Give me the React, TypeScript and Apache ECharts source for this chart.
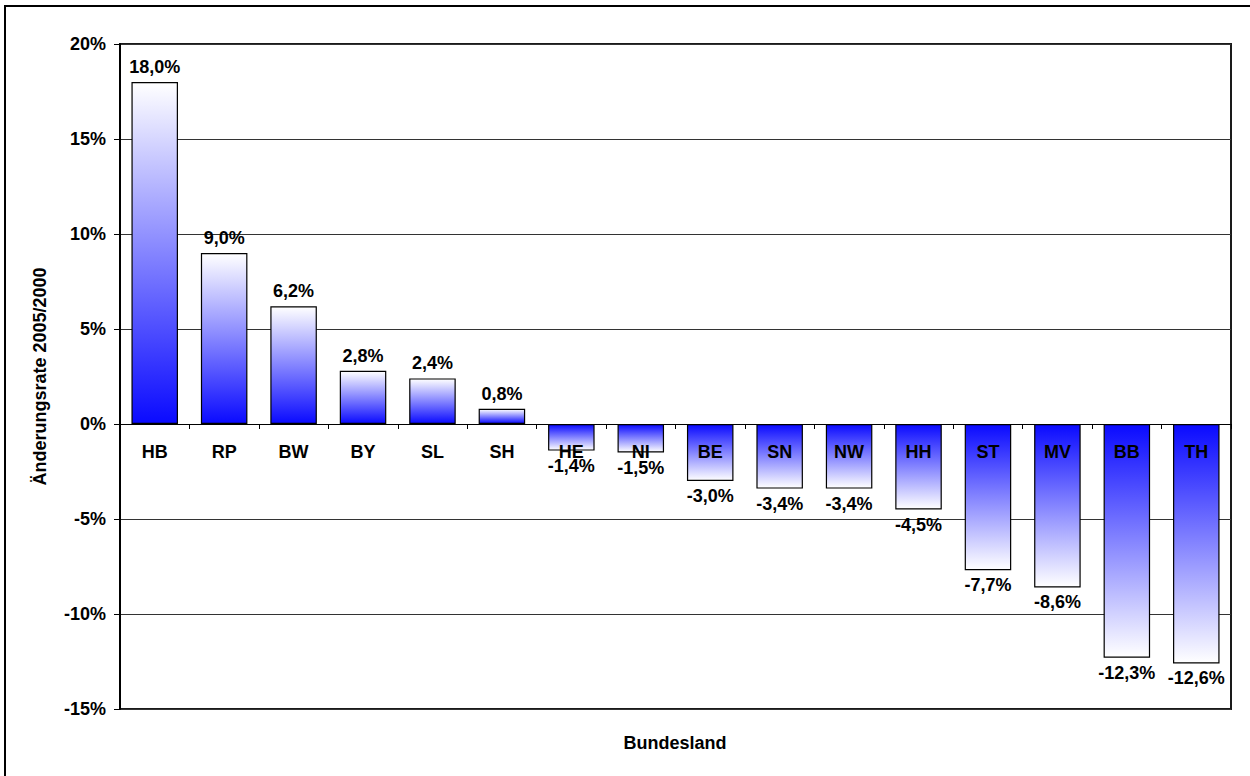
import React, { useEffect, useRef } from "react";
import * as echarts from "echarts";

const categories = ["HB", "RP", "BW", "BY", "SL", "SH", "HE", "NI", "BE", "SN", "NW", "HH", "ST", "MV", "BB", "TH"];
const values = [18.0, 9.0, 6.2, 2.8, 2.4, 0.8, -1.4, -1.5, -3.0, -3.4, -3.4, -4.5, -7.7, -8.6, -12.3, -12.6];
const yTicks = { min: -15, max: 20, interval: 5 };
const yTitle = "Änderungsrate 2005/2000";
const xTitle = "Bundesland";

const FONT = 'Arial, "Liberation Sans", sans-serif';
const BLUE = "#0a0aff";
const GRID = { left: 120, top: 44, right: 19, bottom: 67 };
const PLOT_H = 776 - GRID.top - GRID.bottom;

function fmt(v: number) {
  return v.toFixed(1).replace(".", ",") + "%";
}

export default function App() {
  const ref = useRef<HTMLDivElement>(null);
  useEffect(() => {
    document.body.style.margin = "0";
    const chart = echarts.init(ref.current!, null, { renderer: "svg" });
    // distance from the bottom of the plot to the zero line, via the value scale
    const zeroOffset = (-yTicks.min / (yTicks.max - yTicks.min)) * PLOT_H;
    const data = values.map((v) => ({
      value: v,
      itemStyle: {
        color: new echarts.graphic.LinearGradient(0, 0, 0, 1, v >= 0
          ? [{ offset: 0, color: "#ffffff" }, { offset: 1, color: BLUE }]
          : [{ offset: 0, color: BLUE }, { offset: 1, color: "#ffffff" }]),
      },
      label: {
        position: v >= 0 ? "top" : "bottom",
        distance: v >= 0 ? 6 : 6,
      },
    }));
    chart.setOption({
      animation: false,
      backgroundColor: "#ffffff",
      textStyle: { fontFamily: FONT },
      grid: {
        ...GRID,
        show: true,
        borderColor: "#1a1a1a",
        borderWidth: 2,
        backgroundColor: "transparent",
      },
      xAxis: {
        type: "category",
        data: categories,
        z: 10,
        position: "bottom",
        offset: -zeroOffset,
        axisLine: { onZero: false, lineStyle: { color: "#000", width: 1 } },
        axisTick: { show: true, length: 5, lineStyle: { color: "#000" } },
        axisLabel: {
          margin: 19,
          color: "#000",
          fontFamily: FONT,
          fontWeight: "bold",
          fontSize: 18,
          interval: 0,
        },
        splitLine: { show: false },
      },
      yAxis: {
        type: "value",
        min: yTicks.min,
        max: yTicks.max,
        interval: yTicks.interval,
        name: yTitle,
        nameLocation: "middle",
        nameRotate: 90,
        nameGap: 71,
        nameTextStyle: { color: "#000", fontFamily: FONT, fontWeight: "bold", fontSize: 18 },
        axisLine: { show: true, lineStyle: { color: "#000", width: 2 } },
        axisTick: { show: true, length: 6, lineStyle: { color: "#000" } },
        axisLabel: {
          formatter: (v: number) => v + "%",
          color: "#000",
          fontFamily: FONT,
          fontWeight: "bold",
          fontSize: 18,
          margin: 14,
        },
        splitLine: { show: true, lineStyle: { color: "#333", width: 1 } },
      },
      series: [
        {
          type: "bar",
          data,
          barWidth: "67%",
          itemStyle: { borderColor: "#000", borderWidth: 1.2 },
          label: {
            show: true,
            formatter: (p: any) => fmt(p.value),
            color: "#000",
            fontFamily: FONT,
            fontWeight: "bold",
            fontSize: 18,
          },
        },
      ],
      graphic: [
        {
          type: "rect",
          shape: { x: 5, y: 6, width: 1300, height: 820 },
          style: { fill: "none", stroke: "#000", lineWidth: 2 },
          silent: true,
        },
        {
          type: "text",
          x: 675,
          y: 743,
          style: {
            text: xTitle,
            fill: "#000",
            font: `bold 18px ${FONT}`,
            textAlign: "center",
            textVerticalAlign: "middle",
          },
        },
      ],
    });
    return () => chart.dispose();
  }, []);
  return <div ref={ref} style={{ width: 1250, height: 776 }} />;
}
